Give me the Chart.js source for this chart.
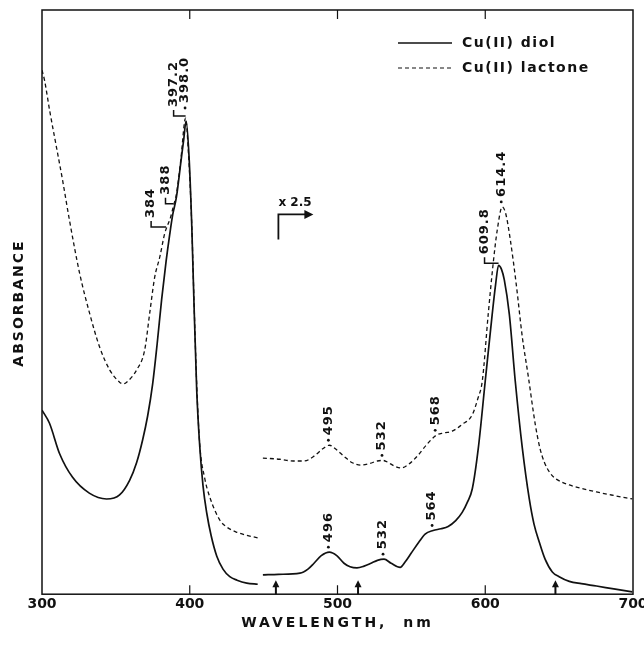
<!DOCTYPE html>
<html>
<head>
<meta charset="utf-8">
<script src="https://cdn.jsdelivr.net/npm/chart.js@4.4.0/dist/chart.umd.min.js"></script>
<style>
  html, body { margin: 0; background: #fff; }
  #wrap { width: 644px; height: 645px; }
</style>
</head>
<body>
<div id="wrap"><canvas id="spectrum"></canvas></div>
<script>
// values (absorbance in arbitrary units, 0-100)
var xTicks = [300, 400, 500, 600, 700];

// Cu(II) diol, solid line (null = break between the two recordings)
var diolNm = [300, 305, 312, 320.7, 332, 343.7, 352.5, 359.3, 364, 368.1, 371.5, 374.9, 378, 381, 384, 386.4, 388.5, 391, 394, 396, 397.5,
  399.5, 401.4, 402.5, 404.7, 406.8, 409, 411.5, 414.5, 418.3, 422.5, 427.1, 432, 438.6, 446, 448,
  449.5, 460, 474.6, 480, 484.1, 489, 494.5, 499.5, 504.4, 508.5, 513.2, 518, 522.7, 527, 531.5, 536.3, 542.4, 546, 549.8, 555,
  559.3, 564.7, 570, 574.9, 580, 584.4, 588, 591.2, 595.3, 600, 604.7, 607, 609, 611, 612.9, 616.3, 620.3, 625.1, 629.8, 633,
  636.6, 640.5, 645.4, 650, 656.9, 665, 675.3, 687, 699.5];
var diolAbs = [31.5, 29.3, 24.0, 20.0, 17.3, 16.3, 17.0, 19.5, 22.5, 26.4, 30.5, 36.0, 43.0, 50.5, 57.0, 61.5, 65.0, 68.0, 74.0, 78.0, 81.0,
  75.0, 62.8, 53.0, 35.0, 25.2, 18.5, 13.9, 10.0, 6.5, 4.3, 3.0, 2.4, 1.9, 1.7, null,
  3.3, 3.4, 3.6, 4.3, 5.3, 6.6, 7.2, 6.6, 5.3, 4.7, 4.5, 4.8, 5.3, 5.8, 6.0, 5.3, 4.6, 5.6, 7.0, 8.9,
  10.3, 10.9, 11.2, 11.6, 12.6, 14.0, 15.8, 18.0, 25.0, 36.5, 47.9, 53.0, 56.3, 55.6, 53.8, 47.9, 36.5, 25.0, 16.3, 12.0,
  8.9, 6.0, 3.8, 3.0, 2.2, 1.8, 1.4, 0.9, 0.4];

// Cu(II) lactone, dashed line
var lactoneNm = [300, 301.7, 305.1, 309.8, 313.9, 318.6, 325.4, 332.2, 339, 345.8, 352.5, 355, 357.3, 364.1, 369.5, 372.9, 376.3, 379.7,
  383.1, 384, 387, 389, 391, 394, 397.2, 399, 401.4, 402.5, 404.7, 406.8, 410, 413.6, 420.3, 425, 431.9, 440, 447, 448,
  449.5, 461, 470, 477.3, 485, 490, 494.5, 499, 504.4, 510, 515.9, 522, 527, 530.8, 534, 538, 543.1, 548, 554.6, 560, 566.8,
  572, 577.6, 584, 591.2, 595, 598, 602, 605.4, 608.1, 611.5, 614, 617, 621, 625.1, 629, 633.9, 637, 640, 644, 648.1, 656.9,
  667, 675.3, 687, 699.5];
var lactoneAbs = [89.7, 88.0, 82.9, 76.5, 70.9, 64.0, 55.0, 48.1, 42.3, 38.4, 36.3, 36.0, 36.3, 38.4, 41.8, 48.1, 54.3, 57.7,
  61.8, 62.5, 64.5, 66.5, 68.5, 74.5, 81.5, 76.0, 63.0, 53.5, 36.0, 25.5, 20.0, 16.6, 12.7, 11.5, 10.6, 10.0, 9.6, null,
  23.3, 23.1, 22.8, 22.8, 23.8, 24.9, 25.5, 24.8, 23.6, 22.5, 22.1, 22.4, 22.8, 22.9, 22.6, 22.0, 21.6, 22.2, 23.8, 25.5, 27.2,
  27.6, 27.9, 29.0, 30.7, 33.5, 36.5, 47.9, 56.7, 62.3, 66.3, 65.0, 60.6, 53.0, 44.0, 37.5, 29.0, 25.0, 22.6, 20.7, 19.7, 18.7,
  18.0, 17.5, 16.9, 16.3];

// peak labels: text, where it sits on the curve, and the mark used
var peakText = ['384', '388', '397.2', '398.0', '609.8', '614.4', '495', '532', '568', '496', '532', '564'];
var peakNm   = [384, 389, 397.2, 397.5, 609, 611.5, 494.5, 530.8, 566.8, 494.5, 531.5, 564.7];
var peakAbs  = [62.5, 66.5, 81.5, 81, 56.3, 66.3, 25.5, 22.9, 27.2, 7.2, 6.0, 10.9];
var peakMark = ['bracket', 'bracket', 'bracket', 'dot', 'bracket', 'dot', 'dot', 'dot', 'dot', 'dot', 'dot', 'dot'];

// small arrows on the baseline and the x2.5 scale change
var arrowNm = [458.3, 513.9, 647.5];
var scaleChangeNm = 460;
var scaleChangeAbs = 65;

var FONT = '"DejaVu Sans", sans-serif';
var INK = '#111';

function toPoints(xs, ys) {
  return xs.map(function (x, i) { return { x: x, y: ys[i] }; });
}

// extra offsets for label placement (pixels)
var bracketLen = { '384': 15, '388': 8, '397.2': 12, '609.8': 14 };
var extraGap = { '398.0': 8 };

var decorPlugin = {
  id: 'decor',
  afterDraw: function (chart) {
    var ctx = chart.ctx;
    var a = chart.chartArea;
    var xs = chart.scales.x;
    var ys = chart.scales.y;
    ctx.save();
    ctx.strokeStyle = INK;
    ctx.fillStyle = INK;

    // frame
    ctx.lineWidth = 1.5;
    ctx.strokeRect(a.left, a.top, a.right - a.left, a.bottom - a.top);

    // inward ticks top and bottom
    ctx.lineWidth = 1.2;
    xTicks.slice(1, -1).forEach(function (t) {
      var px = xs.getPixelForValue(t);
      ctx.beginPath();
      ctx.moveTo(px, a.bottom); ctx.lineTo(px, a.bottom - 9);
      ctx.moveTo(px, a.top); ctx.lineTo(px, a.top + 9);
      ctx.stroke();
    });

    // arrows on the baseline
    arrowNm.forEach(function (nm) {
      var px = xs.getPixelForValue(nm);
      ctx.beginPath();
      ctx.moveTo(px, a.bottom - 14);
      ctx.lineTo(px - 3.5, a.bottom - 7);
      ctx.lineTo(px + 3.5, a.bottom - 7);
      ctx.closePath();
      ctx.fill();
      ctx.lineWidth = 2;
      ctx.beginPath();
      ctx.moveTo(px, a.bottom - 8); ctx.lineTo(px, a.bottom);
      ctx.stroke();
    });

    // x 2.5 marker
    var cx = xs.getPixelForValue(scaleChangeNm);
    var cy = ys.getPixelForValue(scaleChangeAbs);
    ctx.lineWidth = 1.8;
    ctx.beginPath();
    ctx.moveTo(cx, cy + 25); ctx.lineTo(cx, cy); ctx.lineTo(cx + 27, cy);
    ctx.stroke();
    ctx.beginPath();
    ctx.moveTo(cx + 35, cy); ctx.lineTo(cx + 26, cy - 4.5); ctx.lineTo(cx + 26, cy + 4.5);
    ctx.closePath(); ctx.fill();
    ctx.font = 'bold 12px ' + FONT;
    ctx.textAlign = 'left';
    ctx.textBaseline = 'alphabetic';
    ctx.fillText('x 2.5', cx, cy - 8);

    // peak labels (rotated)
    ctx.font = 'bold 13px ' + FONT;
    ctx.letterSpacing = '1px';
    peakText.forEach(function (txt, i) {
      var px = xs.getPixelForValue(peakNm[i]);
      var py = ys.getPixelForValue(peakAbs[i]);
      var tx, ty;
      ctx.lineWidth = 1.5;
      if (peakMark[i] === 'bracket') {
        var len = bracketLen[txt] || 12;
        ctx.beginPath();
        ctx.moveTo(px - len, py - 8);
        ctx.lineTo(px - len, py - 2);
        ctx.lineTo(px, py - 2);
        ctx.stroke();
        tx = px - len; ty = py - 11;
      } else {
        var g = extraGap[txt] || 0;
        ctx.beginPath();
        ctx.arc(px - 1, py - 5 - g, 1.4, 0, Math.PI * 2);
        ctx.fill();
        tx = px - 1; ty = py - 10 - g;
      }
      ctx.save();
      ctx.translate(tx, ty);
      ctx.rotate(-Math.PI / 2);
      ctx.textAlign = 'left';
      ctx.textBaseline = 'middle';
      ctx.fillText(txt, 0, 0);
      ctx.restore();
    });

    // legend
    var lx = 398, lw = 54;
    ctx.font = 'bold 14px ' + FONT;
    ctx.letterSpacing = '1.5px';
    ctx.textAlign = 'left';
    ctx.textBaseline = 'middle';
    ctx.lineWidth = 1.6;
    ctx.beginPath(); ctx.moveTo(lx, 43); ctx.lineTo(lx + lw, 43); ctx.stroke();
    ctx.fillText('Cu(II) diol', lx + 64, 43);
    ctx.lineWidth = 1.2;
    ctx.setLineDash([4, 3]);
    ctx.beginPath(); ctx.moveTo(lx, 68); ctx.lineTo(lx + lw, 68); ctx.stroke();
    ctx.setLineDash([]);
    ctx.fillText('Cu(II) lactone', lx + 64, 68);

    // axis titles
    ctx.font = 'bold 14px ' + FONT;
    ctx.letterSpacing = '3px';
    ctx.textAlign = 'center';
    ctx.fillText('WAVELENGTH,  nm', (a.left + a.right) / 2, 623);
    ctx.save();
    ctx.translate(19, 303);
    ctx.rotate(-Math.PI / 2);
    ctx.letterSpacing = '2px';
    ctx.fillText('ABSORBANCE', 0, 0);
    ctx.restore();

    ctx.restore();
  }
};

new Chart(document.getElementById('spectrum'), {
  type: 'line',
  data: {
    datasets: [{
      label: 'Cu(II) diol',
      data: toPoints(diolNm, diolAbs),
      borderColor: INK,
      borderWidth: 1.7,
      pointRadius: 0,
      cubicInterpolationMode: 'monotone',
      spanGaps: false
    }, {
      label: 'Cu(II) lactone',
      data: toPoints(lactoneNm, lactoneAbs),
      borderColor: INK,
      borderWidth: 1.3,
      borderDash: [4, 3],
      pointRadius: 0,
      cubicInterpolationMode: 'monotone',
      spanGaps: false
    }]
  },
  options: {
    responsive: true,
    maintainAspectRatio: false,
    animation: false,
    devicePixelRatio: 1,
    layout: { padding: { left: 42, right: 11, top: 10, bottom: 30 }, autoPadding: false },
    plugins: { legend: { display: false }, tooltip: { enabled: false } },
    scales: {
      x: {
        type: 'linear',
        min: 300,
        max: 700,
        afterBuildTicks: function (scale) {
          scale.ticks = xTicks.map(function (v) { return { value: v }; });
        },
        afterFit: function (scale) {
          // let the end labels hang past the frame, as in the original
          scale.paddingLeft = 0;
          scale.paddingRight = 0;
        },
        grid: { display: false, drawTicks: false },
        border: { display: false },
        ticks: { color: INK, padding: 2, font: { family: FONT, size: 14, weight: 'bold' }, maxRotation: 0 }
      },
      y: { type: 'linear', min: 0, max: 100, display: false }
    }
  },
  plugins: [decorPlugin]
});
</script>
</body>
</html>
